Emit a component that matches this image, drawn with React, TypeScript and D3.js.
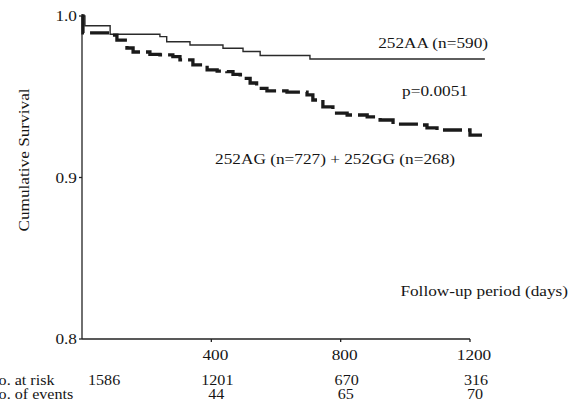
import React from 'react'
import * as d3 from 'd3'

// Kaplan-Meier steps: [day, cumulative survival]
const aaDays = [0, 9, 61, 87, 241, 262, 324, 334, 427, 436, 489, 498, 535, 551, 699, 705, 1246];
const aaSurv = [1.0, 0.994, 0.994, 0.9887, 0.9872, 0.9841, 0.9841, 0.982, 0.982, 0.980, 0.980, 0.978, 0.978, 0.9755, 0.9755, 0.9734, 0.9734];

const agDays = [0, 3, 87, 108, 139, 158, 210, 241, 281, 303, 343, 387, 418, 448, 467, 489, 498, 520, 540, 572, 634, 674, 696, 714, 745, 776, 820, 882, 922, 962, 1045, 1067, 1098, 1169, 1200, 1246];
const agSurv = [1.0, 0.9895, 0.9882, 0.9851, 0.9802, 0.9777, 0.9763, 0.9759, 0.9748, 0.9728, 0.9697, 0.9666, 0.9659, 0.9655, 0.9639, 0.9635, 0.9614, 0.9585, 0.9552, 0.9536, 0.9529, 0.9529, 0.9511, 0.948, 0.9437, 0.9399, 0.9387, 0.9375, 0.9356, 0.9331, 0.9325, 0.9307, 0.9294, 0.9294, 0.9263, 0.9257];

const yTicks = [1.0, 0.9, 0.8];
const xTicks = [400, 800, 1200];
const tableDays = [0, 400, 800, 1200];
const atRisk = [1586, 1201, 670, 316];
const eventDays = [400, 800, 1200];
const events = [44, 65, 70];

const width = 579;
const height = 414;
const serif = '"Liberation Serif", "DejaVu Serif", serif';
const stretch = 1.15;
const ink = '#151515';

const xScale = d3.scaleLinear().domain([0, 1200]).range([82, 470]);
const yScale = d3.scaleLinear().domain([0.8, 1.0]).range([339, 16]);

const stepLine = d3.line<[number, number]>()
  .x(d => xScale(d[0]))
  .y(d => yScale(d[1]))
  .curve(d3.curveStepAfter);

const zip = (a: number[], b: number[]): [number, number][] => a.map((v, i) => [v, b[i]]);

const Label = ({ x, y, anchor = 'start', size = 15, rotate = 0, children }: any) => (
  <text
    transform={`translate(${x},${y}) rotate(${rotate}) scale(${stretch},1)`}
    textAnchor={anchor}
    fontFamily={serif}
    fontSize={size}
    fill={ink}
  >
    {children}
  </text>
);

const App = () => {
  const x0 = xScale(0);
  const yBase = yScale(0.8);
  return (
    <svg width={width} height={height} style={{ position: 'absolute', left: 0, top: 0, background: '#fff' }}>
      {/* axes */}
      <line x1={x0} x2={x0} y1={yScale(1.0) - 2} y2={yBase} stroke="#222" strokeWidth={1.3} />
      <line x1={x0} x2={xScale(1200)} y1={yBase} y2={yBase} stroke="#222" strokeWidth={1.3} />
      {yTicks.map(t => (
        <g key={t}>
          <line x1={x0 - 3} x2={x0} y1={yScale(t)} y2={yScale(t)} stroke="#222" strokeWidth={1.3} />
          <Label x={x0 - 5} y={yScale(t) + 5} anchor="end">{t.toFixed(1)}</Label>
        </g>
      ))}
      {xTicks.map(t => (
        <g key={t}>
          <line x1={xScale(t)} x2={xScale(t)} y1={yBase} y2={yBase + 3} stroke="#222" strokeWidth={1.3} />
          <Label x={xScale(t) + 4} y={yBase + 21} anchor="middle">{t}</Label>
        </g>
      ))}

      {/* curves */}
      <path d={stepLine(zip(aaDays, aaSurv)) || ''} fill="none" stroke="#2a2a2a" strokeWidth={1.4} />
      <path
        d={stepLine(zip(agDays, agSurv)) || ''}
        fill="none"
        stroke="#1a1a1a"
        strokeWidth={3.3}
        strokeDasharray="19,6"
      />

      {/* annotations */}
      <Label x={488} y={48} anchor="end">252AA (n=590)</Label>
      <Label x={435} y={96} anchor="middle">p=0.0051</Label>
      <Label x={455} y={164} anchor="end">252AG (n=727) + 252GG (n=268)</Label>
      <Label x={568} y={296} anchor="end">Follow-up period (days)</Label>
      <Label x={29} y={160} anchor="middle" rotate={-90}>Cumulative Survival</Label>

      {/* numbers at risk / events (the row titles run off the left edge, as in the original) */}
      <Label x={-13} y={385} size={14}>No. at risk</Label>
      <Label x={-13} y={399} size={14}>No. of events</Label>
      {atRisk.map((n, i) => (
        <Label
          key={i}
          x={xScale(tableDays[i]) + 6}
          y={385}
          size={14}
          anchor={i === 0 ? 'start' : 'middle'}
        >
          {n}
        </Label>
      ))}
      {events.map((n, i) => (
        <Label key={i} x={xScale(eventDays[i]) + 5} y={399} size={14} anchor="middle">{n}</Label>
      ))}
    </svg>
  );
};

export default App;
